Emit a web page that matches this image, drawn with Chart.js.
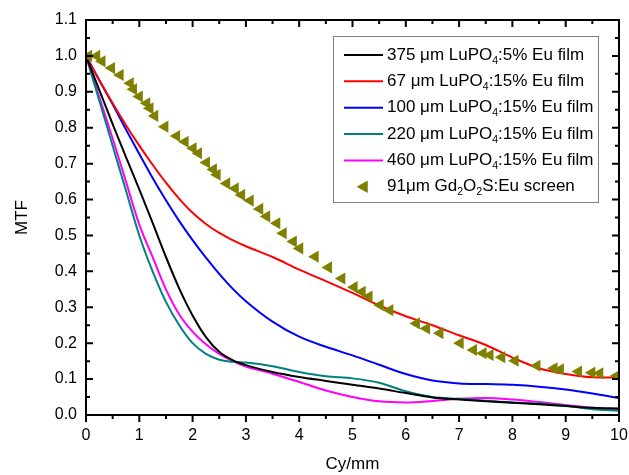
<!DOCTYPE html>
<html><head><meta charset="utf-8">
<script src="https://cdn.jsdelivr.net/npm/chart.js@4.4.1/dist/chart.umd.min.js"></script>
<style>html,body{margin:0;padding:0;background:#fff;}</style>
</head><body>
<canvas id="c" width="629" height="475"></canvas>
<script>
// ---- data ----
const freq = [0,0.25,0.5,0.75,1,1.25,1.5,1.75,2,2.25,2.5,2.75,3,3.5,4,4.5,5,5.5,6,6.5,7,7.5,8,8.5,9,9.5,10];
const lu375_5 = [1.0,0.905,0.81,0.718,0.628,0.535,0.44,0.352,0.277,0.217,0.176,0.153,0.139,0.12,0.106,0.095,0.084,0.074,0.061,0.049,0.043,0.038,0.034,0.030,0.025,0.020,0.018];
const lu67_15 = [1.0,0.932,0.868,0.807,0.75,0.697,0.647,0.602,0.563,0.532,0.507,0.487,0.47,0.44,0.405,0.373,0.34,0.305,0.275,0.25,0.222,0.195,0.16,0.13,0.114,0.105,0.104];
const lu100_15 = [1.0,0.932,0.865,0.795,0.727,0.66,0.598,0.54,0.487,0.438,0.393,0.352,0.317,0.26,0.218,0.19,0.166,0.14,0.114,0.096,0.088,0.086,0.084,0.079,0.071,0.06,0.047];
const lu220_15 = [1.0,0.875,0.75,0.625,0.50,0.40,0.315,0.25,0.20,0.17,0.154,0.148,0.146,0.136,0.12,0.108,0.102,0.09,0.066,0.05,0.045,0.04,0.035,0.032,0.026,0.016,0.012];
const lu460_15 = [1.0,0.885,0.77,0.65,0.53,0.44,0.35,0.28,0.232,0.197,0.17,0.15,0.135,0.115,0.092,0.068,0.05,0.038,0.035,0.039,0.045,0.047,0.043,0.036,0.028,0.02,0.015];
const gdFreq = [0.05,0.2,0.3,0.48,0.64,0.83,0.89,1.0,1.14,1.2,1.29,1.48,1.70,1.86,2.01,2.11,2.26,2.39,2.46,2.64,2.80,2.92,3.08,3.26,3.39,3.58,3.70,3.89,4.01,4.30,4.55,4.80,5.03,5.18,5.31,5.52,5.70,6.20,6.39,6.64,7.02,7.27,7.45,7.58,7.80,8.05,8.46,8.78,8.90,9.24,9.49,9.64,9.96];
const gdMTF = [1.0,1.0,0.985,0.966,0.947,0.924,0.907,0.887,0.868,0.854,0.833,0.803,0.777,0.761,0.743,0.729,0.703,0.684,0.669,0.645,0.631,0.613,0.597,0.574,0.553,0.534,0.506,0.483,0.464,0.441,0.411,0.38,0.356,0.343,0.33,0.306,0.292,0.255,0.241,0.228,0.2,0.181,0.172,0.167,0.161,0.151,0.137,0.13,0.127,0.121,0.118,0.116,0.109];
const seriesLabels = ["375 μm LuPO_4:5% Eu film","67 μm LuPO_4:15% Eu film","100 μm LuPO_4:15% Eu film","220 μm LuPO_4:15% Eu film","460 μm LuPO_4:15% Eu film","91μm Gd_2O_2S:Eu screen"];
const xTickValues = [0,1,2,3,4,5,6,7,8,9,10];
const xTickLabels = ["0","1","2","3","4","5","6","7","8","9","10"];
const yTickValues = [0,0.1,0.2,0.3,0.4,0.5,0.6,0.7,0.8,0.9,1.0,1.1];
const yTickLabels = ["0.0","0.1","0.2","0.3","0.4","0.5","0.6","0.7","0.8","0.9","1.0","1.1"];
const xTitle = "Cy/mm", yTitle = "MTF";

const FONT = 'Arial, "Liberation Sans", sans-serif';
Chart.defaults.font.family = FONT;
Chart.defaults.color = '#000';

const pts = (xs, ys) => xs.map((x, i) => ({x, y: ys[i]}));
const lineColors = ['#000000','#ff0000','#0000ff','#008080','#ff00ff'];
const lineSeries = [lu375_5, lu67_15, lu100_15, lu220_15, lu460_15];

const datasets = lineSeries.map((ys, i) => ({
  label: seriesLabels[i], data: pts(freq, ys), showLine: true,
  borderColor: lineColors[i], backgroundColor: lineColors[i], borderWidth: 2,
  pointRadius: 0, cubicInterpolationMode: 'monotone', order: 1
}));
datasets.push({
  label: seriesLabels[5], data: pts(gdFreq, gdMTF), showLine: false,
  pointStyle: 'triangle', rotation: -90, pointRadius: 7, pointBorderWidth: 0,
  backgroundColor: '#808000', borderColor: '#808000', order: 0
});

function drawRich(ctx, str, x, y, size) {
  const parts = str.split(/(_\d)/);
  let cx = x;
  parts.forEach(p => {
    if (!p) return;
    if (p[0] === '_') {
      ctx.font = (size * 0.62) + 'px ' + FONT;
      ctx.fillText(p.slice(1), cx, y + size * 0.34);
      cx += ctx.measureText(p.slice(1)).width;
    } else {
      ctx.font = size + 'px ' + FONT;
      ctx.fillText(p, cx, y);
      cx += ctx.measureText(p).width;
    }
  });
}

const framePlugin = {
  id: 'frame',
  afterDraw(chart) {
    const {ctx, chartArea: a, scales: {x, y}} = chart;
    ctx.save();
    // legend box
    const bx = a.left + 247, by = a.top + 16, bw = 265, bh = 166;
    ctx.fillStyle = '#fff';
    ctx.fillRect(bx, by, bw, bh);
    ctx.strokeStyle = '#808080'; ctx.lineWidth = 1;
    ctx.strokeRect(bx + 0.5, by + 0.5, bw, bh);
    const rowH = 26.35;
    chart.data.datasets.forEach((ds, i) => {
      const ry = by + 19 + i * rowH;
      if (ds.showLine) {
        ctx.strokeStyle = ds.borderColor; ctx.lineWidth = 2;
        ctx.beginPath(); ctx.moveTo(bx + 11, ry); ctx.lineTo(bx + 50, ry); ctx.stroke();
      } else {
        ctx.fillStyle = ds.backgroundColor;
        Chart.helpers.drawPoint(ctx, {pointStyle: 'triangle', rotation: -90, radius: 7, borderWidth: 0}, bx + 31, ry);
        ctx.fill();
      }
      ctx.fillStyle = '#000'; ctx.textBaseline = 'middle'; ctx.textAlign = 'left';
      drawRich(ctx, ds.label, bx + 54, ry, 17);
    });
    // frame
    ctx.strokeStyle = '#000'; ctx.lineWidth = 2;
    ctx.strokeRect(a.left, a.top, a.right - a.left, a.bottom - a.top);
    ctx.beginPath();
    for (let i = 0; i <= 20; i++) {
      const px = x.getPixelForValue(i * 0.5), L = i % 2 === 0 ? 7 : 4;
      ctx.moveTo(px, a.bottom); ctx.lineTo(px, a.bottom + L);
      ctx.moveTo(px, a.top); ctx.lineTo(px, a.top + L);
    }
    for (let i = 0; i <= 22; i++) {
      const py = y.getPixelForValue(i * 0.05), L = i % 2 === 0 ? 7 : 4;
      ctx.moveTo(a.left, py); ctx.lineTo(a.left + L, py);
      ctx.moveTo(a.right, py); ctx.lineTo(a.right - L, py);
    }
    ctx.stroke();
    ctx.restore();
  }
};

new Chart(document.getElementById('c'), {
  type: 'scatter',
  data: {datasets},
  plugins: [framePlugin],
  options: {
    responsive: false, animation: false, devicePixelRatio: 1,
    layout: {padding: {top: 20, right: 10, left: 0, bottom: 0}},
    plugins: {legend: {display: false}, tooltip: {enabled: false}},
    scales: {
      x: {
        type: 'linear', min: 0, max: 10,
        afterFit: s => { s.height = 60; s.paddingRight = 0; s.paddingLeft = 0; },
        afterBuildTicks: s => { s.ticks = xTickValues.map(v => ({value: v})); },
        grid: {display: false, drawTicks: false}, border: {display: false},
        ticks: {font: {size: 16}, color: '#000', padding: 11,
          callback: (v) => xTickLabels[xTickValues.indexOf(v)] ?? ''},
        title: {display: true, text: xTitle, font: {size: 17}, color: '#000', padding: {top: 0, bottom: 0}}
      },
      y: {
        type: 'linear', min: 0, max: 1.1,
        afterFit: s => { s.width = 86; s.paddingTop = 0; s.paddingBottom = 0; },
        afterBuildTicks: s => { s.ticks = yTickValues.map(v => ({value: v})); },
        grid: {display: false, drawTicks: false}, border: {display: false},
        ticks: {font: {size: 16}, color: '#000', padding: 9,
          callback: (v) => { const k = yTickValues.findIndex(t => Math.abs(t - v) < 1e-9); return k >= 0 ? yTickLabels[k] : ''; }},
        title: {display: true, text: yTitle, font: {size: 17}, color: '#000', padding: {top: 12, bottom: 0}}
      }
    }
  }
});
</script>
</body></html>
